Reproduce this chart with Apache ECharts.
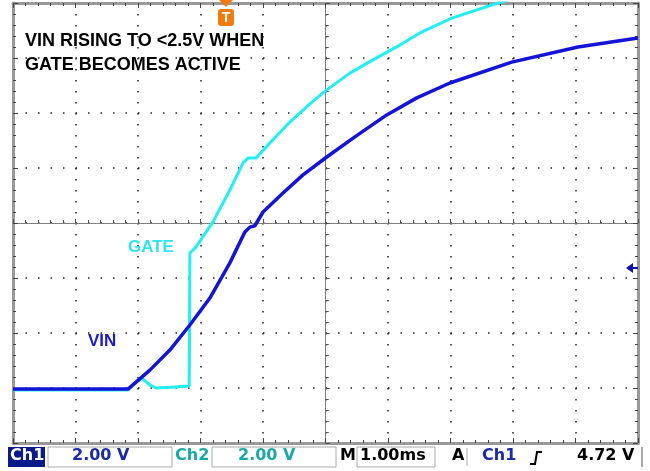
<!DOCTYPE html>
<html>
<head>
<meta charset="utf-8">
<script src="https://cdn.jsdelivr.net/npm/echarts@6/dist/echarts.min.js"></script>
<style>
  html, body { margin: 0; padding: 0; background: #fff; }
  #main { width: 650px; height: 471px; }
</style>
</head>
<body>
<div id="main"></div>
<script>
// time in ms (1.00 ms/div), volts (2.00 V/div)
var vinTime = [0, 0.75, 1.84, 2.19, 2.51, 2.83, 3.15, 3.47, 3.71, 3.79, 3.87, 4.0, 4.32, 4.64, 5.02, 5.47, 5.98, 6.46, 6.99, 7.98, 9.04, 10];
var vinVolt = [-0.04, -0.04, -0.04, 0.65, 1.38, 2.29, 3.27, 4.55, 5.67, 5.85, 5.9, 6.4, 7.09, 7.75, 8.4, 9.13, 9.93, 10.55, 11.09, 11.85, 12.4, 12.73];

var gateTime = [0, 1.84, 1.95, 2.06, 2.19, 2.29, 2.59, 2.82, 2.83, 2.93, 3.2, 3.47, 3.68, 3.76, 3.89, 4.11, 4.43, 4.75, 5.02, 5.39, 5.76, 6.19, 6.51, 7.02, 7.76, 8.75];
var gateVolt = [-0.07, -0.07, 0.18, 0.36, 0.11, 0, 0.04, 0.07, 4.91, 5.13, 6.04, 7.2, 8.18, 8.36, 8.36, 8.91, 9.67, 10.33, 10.84, 11.45, 11.93, 12.47, 12.91, 13.45, 14.0, 14.65];

function pairs(xs, ys) {
  var out = [];
  for (var i = 0; i < xs.length; i++) out.push([xs[i], ys[i]]);
  return out;
}

var chart = echarts.init(document.getElementById('main'));

var frame = { show: true, onZero: false, lineStyle: { color: '#999', width: 3 } };
var borderTick = { show: true, inside: true, length: 5, lineStyle: { color: '#444', width: 1 } };
var borderMinor = { show: true, splitNumber: 5, length: 3, lineStyle: { color: '#444', width: 1 } };
var crossLine = { show: true, onZero: true, lineStyle: { color: '#777', width: 1, type: [1, 1] } };

// center graticule axis, ticks drawn on one side per axis copy
function crossAxis(grid, lo, hi, inside) {
  return {
    type: 'value', gridIndex: grid, min: lo, max: hi, interval: 1,
    axisLine: crossLine,
    axisTick: { show: true, inside: inside, length: 4, lineStyle: { color: '#555' } },
    minorTick: { show: true, splitNumber: 5, length: 3, lineStyle: { color: '#555' } },
    axisLabel: { show: false }, splitLine: { show: false }
  };
}

var option = {
  backgroundColor: '#fff',
  animation: false,
  grid: [
    { left: 13, right: 12, top: 3, bottom: 28, containLabel: false },
    { left: 13, right: 12, top: 3, bottom: 28, containLabel: false }
  ],
  xAxis: [
    {
      type: 'value', gridIndex: 0, min: 0, max: 10, interval: 1, position: 'bottom',
      axisLine: frame, axisTick: borderTick, minorTick: borderMinor,
      axisLabel: { show: false },
      splitLine: { show: true, lineStyle: { color: '#222', width: 1.5, type: [1.5, 9.5] } }
    },
    {
      type: 'value', gridIndex: 0, min: 0, max: 10, interval: 1, position: 'top',
      axisLine: frame, axisTick: borderTick, minorTick: borderMinor,
      axisLabel: { show: false }, splitLine: { show: false }
    },
    crossAxis(1, -5, 5, true),
    crossAxis(1, -5, 5, false)
  ],
  yAxis: [
    {
      type: 'value', gridIndex: 0, min: -2, max: 14, interval: 2, position: 'left',
      axisLine: frame, axisTick: borderTick, minorTick: borderMinor,
      axisLabel: { show: false },
      splitLine: { show: true, lineStyle: { color: '#222', width: 1.5, type: [1.5, 11] } }
    },
    {
      type: 'value', gridIndex: 0, min: -2, max: 14, interval: 2, position: 'right',
      axisLine: frame, axisTick: borderTick, minorTick: borderMinor,
      axisLabel: { show: false }, splitLine: { show: false }
    },
    crossAxis(1, -4, 4, true),
    crossAxis(1, -4, 4, false)
  ],
  series: [
    {
      name: 'GATE', type: 'line', xAxisIndex: 0, yAxisIndex: 0,
      data: pairs(gateTime, gateVolt),
      showSymbol: false, clip: true, z: 3,
      lineStyle: { color: '#22eef6', width: 3 }
    },
    {
      name: 'VIN', type: 'line', xAxisIndex: 0, yAxisIndex: 0,
      data: pairs(vinTime, vinVolt),
      showSymbol: false, clip: true, z: 4,
      lineStyle: { color: '#1414d8', width: 3.5 }
    }
  ],
  graphic: [
    // annotations
    { type: 'text', z: 100, left: 25, top: 32, style: { text: 'VIN RISING TO <2.5V WHEN', font: 'bold 18px "Liberation Sans", Arial, sans-serif', fill: '#000' } },
    { type: 'text', z: 100, left: 25, top: 56, style: { text: 'GATE BECOMES ACTIVE', font: 'bold 18px "Liberation Sans", Arial, sans-serif', fill: '#000' } },
    { type: 'text', z: 100, left: 128, top: 239, style: { text: 'GATE', font: 'bold 17px "Liberation Sans", Arial, sans-serif', fill: '#2ee4f2' } },
    { type: 'text', z: 100, left: 88, top: 333, style: { text: 'VIN', font: 'bold 17px "Liberation Sans", Arial, sans-serif', fill: '#1a1ad0' } },
    // trigger position marker
    { type: 'polygon', z: 100, shape: { points: [[219, 0], [233, 0], [226, 7]] }, style: { fill: '#f07c10' } },
    { type: 'rect', z: 100, shape: { x: 218, y: 9, width: 16, height: 17, r: 3 }, style: { fill: '#f07c10' } },
    { type: 'text', z: 101, x: 226, y: 18, style: { text: 'T', font: 'bold 14px "Liberation Sans", Arial, sans-serif', fill: '#fff', align: 'center', verticalAlign: 'middle' } },
    // trigger level arrow
    { type: 'polygon', z: 100, shape: { points: [[626, 268], [633, 263], [633, 273]] }, style: { fill: '#1010b0' } },
    { type: 'line', z: 100, shape: { x1: 632, y1: 268, x2: 638, y2: 268 }, style: { stroke: '#1010b0', lineWidth: 2 } },
    // status bar
    { type: 'rect', z: 100, shape: { x: 8, y: 447, width: 37, height: 20 }, style: { fill: '#0a1a8a' } },
    { type: 'text', z: 101, left: 10, top: 448, style: { text: 'Ch1', font: 'bold 16px "DejaVu Sans", sans-serif', fill: '#fff' } },
    { type: 'rect', z: 100, shape: { x: 48, y: 447, width: 124, height: 20 }, style: { fill: '#fff', stroke: '#aaa' } },
    { type: 'text', z: 101, left: 72, top: 448, style: { text: '2.00 V', font: 'bold 16px "DejaVu Sans", sans-serif', fill: '#1a2aa8' } },
    { type: 'text', z: 101, left: 175, top: 448, style: { text: 'Ch2', font: 'bold 16px "DejaVu Sans", sans-serif', fill: '#1aa8a8' } },
    { type: 'rect', z: 100, shape: { x: 212, y: 447, width: 124, height: 20 }, style: { fill: '#fff', stroke: '#aaa' } },
    { type: 'text', z: 101, left: 238, top: 448, style: { text: '2.00 V', font: 'bold 16px "DejaVu Sans", sans-serif', fill: '#1aa8a8' } },
    { type: 'text', z: 101, left: 340, top: 448, style: { text: 'M', font: 'bold 16px "DejaVu Sans", sans-serif', fill: '#000' } },
    { type: 'rect', z: 100, shape: { x: 357, y: 447, width: 78, height: 20 }, style: { fill: '#fff', stroke: '#aaa' } },
    { type: 'text', z: 101, left: 360, top: 448, style: { text: '1.00ms', font: 'bold 16px "DejaVu Sans", sans-serif', fill: '#000' } },
    { type: 'text', z: 101, left: 452, top: 448, style: { text: 'A', font: 'bold 16px "DejaVu Sans", sans-serif', fill: '#000' } },
    { type: 'line', z: 100, shape: { x1: 467, y1: 448, x2: 467, y2: 466 }, style: { stroke: '#aaa', lineWidth: 1 } },
    { type: 'text', z: 101, left: 482, top: 448, style: { text: 'Ch1', font: 'bold 16px "DejaVu Sans", sans-serif', fill: '#1a2aa8' } },
    { type: 'polyline', z: 100, shape: { points: [[530, 464], [535, 464], [537, 452], [542, 452]] }, style: { stroke: '#000', lineWidth: 2, fill: null } },
    { type: 'text', z: 101, left: 577, top: 448, style: { text: '4.72 V', font: 'bold 16px "DejaVu Sans", sans-serif', fill: '#000' } },
    { type: 'line', z: 100, shape: { x1: 642, y1: 447, x2: 642, y2: 467 }, style: { stroke: '#aaa', lineWidth: 2 } }
  ]
};

chart.setOption(option);
</script>
</body>
</html>
